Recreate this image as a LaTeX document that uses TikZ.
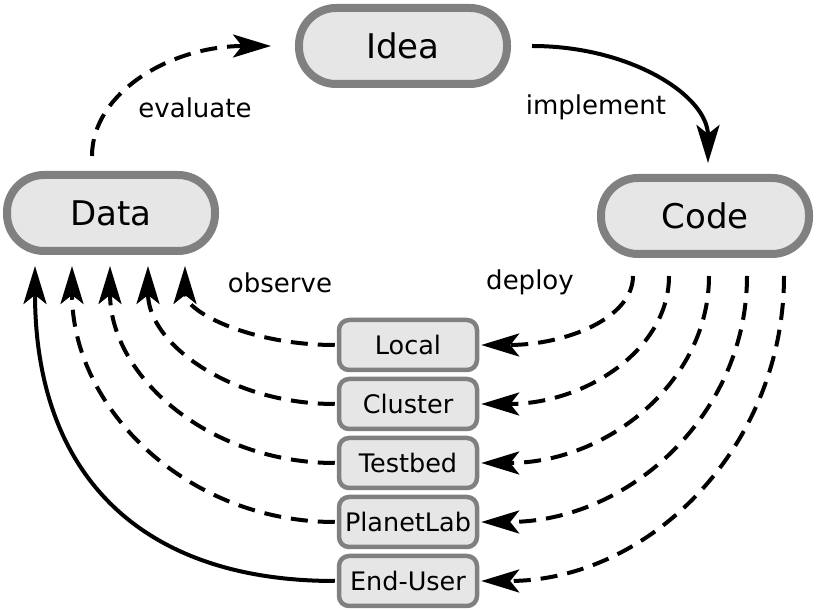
\documentclass[tikz,border=0pt]{standalone}
\usepackage{fontspec}
\setmainfont{DejaVu Sans}
\usetikzlibrary{arrows.meta}
\definecolor{boxfill}{HTML}{E6E6E6}
\definecolor{boxborder}{HTML}{808080}
\begin{document}
\begin{tikzpicture}[x=1pt,y=1pt,
  bigbox/.style={draw=boxborder, fill=boxfill, line width=8pt, rounded corners=37pt,
    minimum width=208pt, minimum height=76pt, inner sep=0pt,
    font=\fontsize{34}{40}\selectfont},
  smallbox/.style={draw=boxborder, fill=boxfill, line width=4.5pt, rounded corners=10pt,
    minimum width=138pt, minimum height=50pt, inner sep=0pt,
    font=\fontsize{25.5}{30}\selectfont},
  lbl/.style={font=\fontsize{26}{30}\selectfont, anchor=base, inner sep=0pt},
  conn/.style={line width=4pt, -{Stealth[length=38pt,width=23pt,inset=9pt]}},
  dconn/.style={conn, dash pattern=on 17pt off 10pt},
]
\useasboundingbox (0,0) rectangle (817,610);

% main nodes
\node[bigbox] (idea) at (403,564) {Idea};
\node[bigbox] (data) at (111,397) {Data};
\node[bigbox] (code) at (705,394) {Code};

% platforms
\node[smallbox] (local)   at (408,265) {Local};
\node[smallbox] (cluster) at (408,206) {Cluster};
\node[smallbox] (testbed) at (408,147) {Testbed};
\node[smallbox] (planet)  at (408,88)  {PlanetLab};
\node[smallbox] (enduser) at (408,29)  {End-User};

% labels
\node[lbl] (levaluate)  at (195,492) {evaluate};
\node[lbl] (limplement) at (596,495) {implement};
\node[lbl] (lobserve)   at (280,317) {observe};
\node[lbl] (ldeploy)    at (530,320) {deploy};

% evaluate
\draw[dconn] ([xshift=-19pt,yshift=15pt]data.north) .. controls +(0,63) and +(-101,0) .. ([xshift=-24pt]idea.west);
% implement
\draw[conn] ([xshift=21pt]idea.east) .. controls +(99,0) and +(0,67) .. ([xshift=3pt,yshift=11pt]code.north);

% deploy
\draw[dconn] ([xshift=-72pt,yshift=-18pt]code.south) .. controls +(0,-42) and +(85,0) .. ([xshift=2pt]local.east);
\draw[dconn] ([xshift=-36pt,yshift=-18pt]code.south) .. controls +(0,-73) and +(105,0) .. ([xshift=2pt]cluster.east);
\draw[dconn] ([xshift=4pt,yshift=-18pt]code.south) .. controls +(0,-105) and +(127,0) .. ([xshift=2pt]testbed.east);
\draw[dconn] ([xshift=42pt,yshift=-18pt]code.south) .. controls +(0,-138) and +(148,0) .. ([xshift=2pt]planet.east);
\draw[dconn] ([xshift=79pt,yshift=-18pt]code.south) .. controls +(0,-171) and +(168,0) .. ([xshift=2pt]enduser.east);

% observe
\draw[dconn] ([xshift=-2pt]local.west) .. controls +(-84,0) and +(0,-46) .. ([xshift=74pt,yshift=-11pt]data.south);
\draw[dconn] ([xshift=-2pt]cluster.west) .. controls +(-104,0) and +(0,-78) .. ([xshift=37pt,yshift=-11pt]data.south);
\draw[dconn] ([xshift=-2pt]testbed.west) .. controls +(-125,0) and +(0,-111) .. ([xshift=-1pt,yshift=-11pt]data.south);
\draw[dconn] ([xshift=-2pt]planet.west) .. controls +(-146,0) and +(0,-144) .. ([xshift=-39pt,yshift=-11pt]data.south);
\draw[conn] ([xshift=-2pt]enduser.west) .. controls +(-196,0) and +(0,-207) .. ([xshift=-76pt,yshift=-11pt]data.south);
\end{tikzpicture}
\end{document}
